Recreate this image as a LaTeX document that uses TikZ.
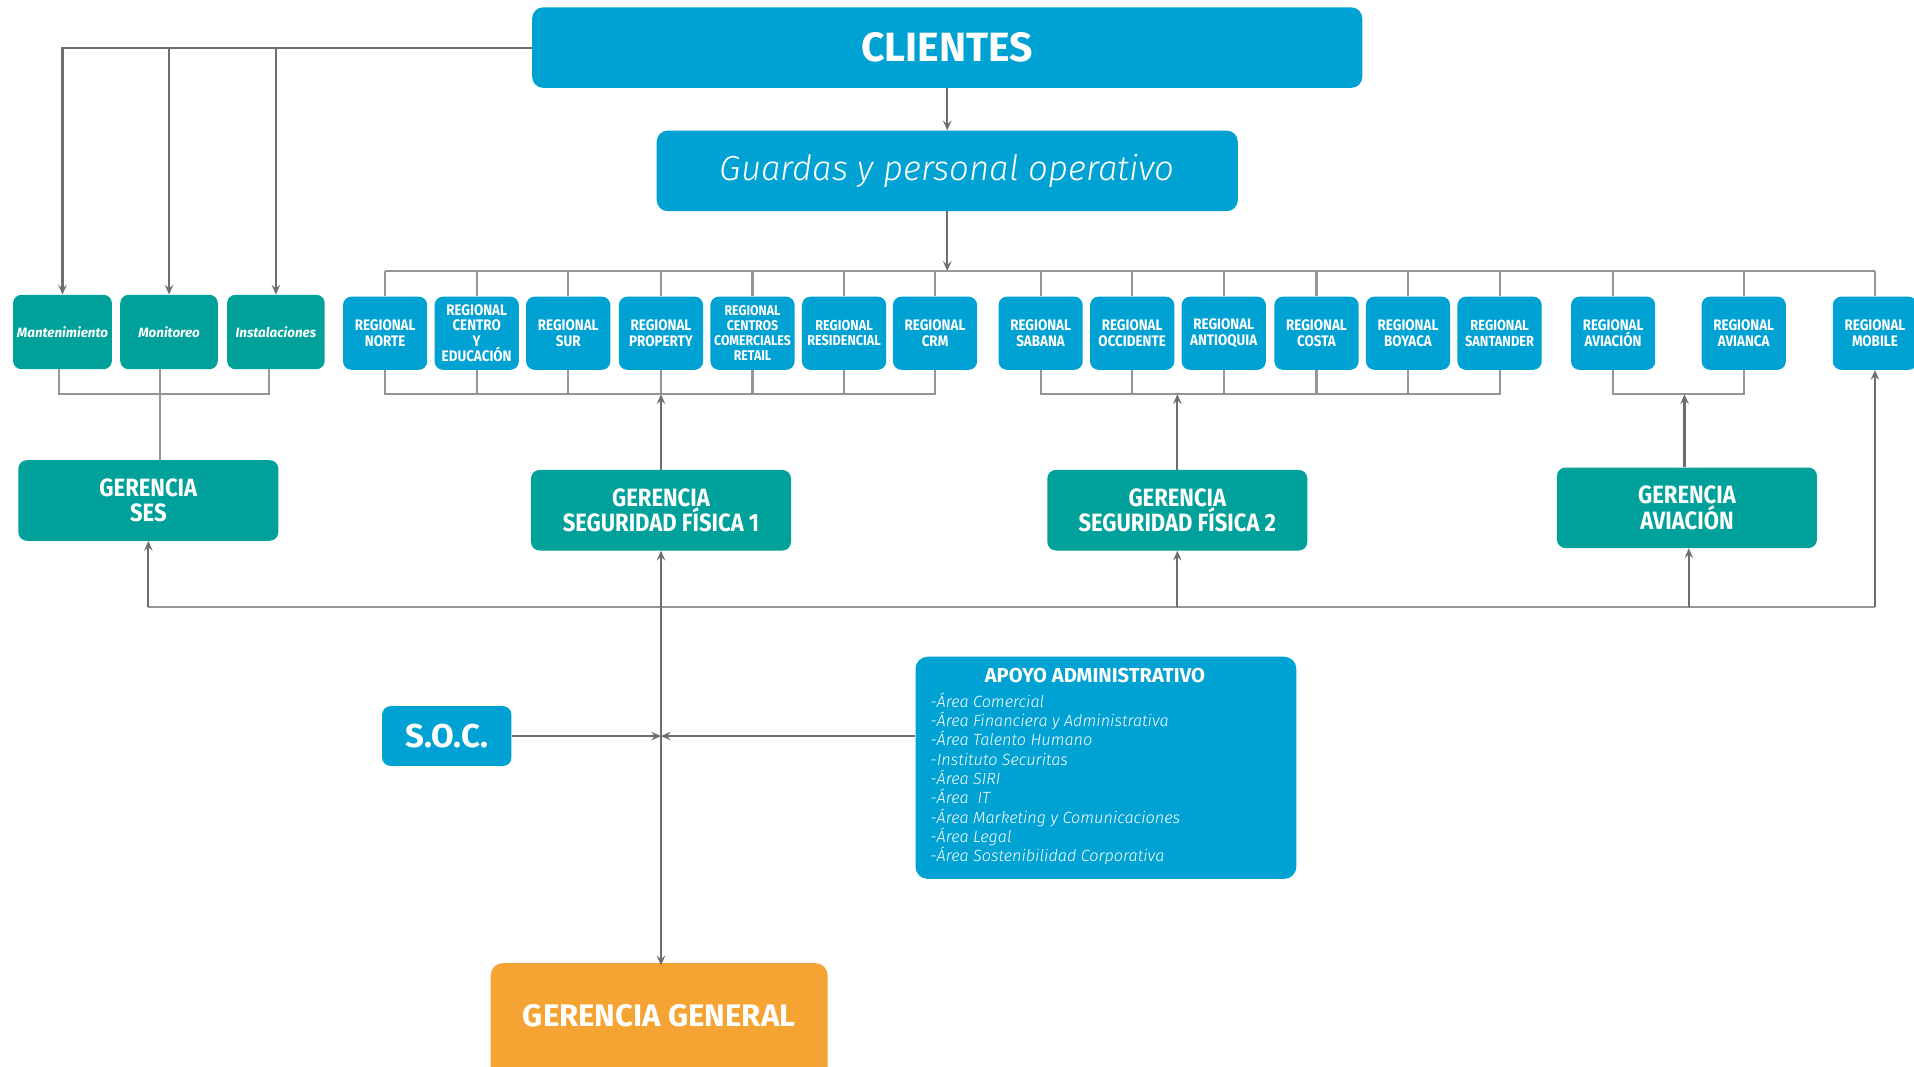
\documentclass[tikz,border=0pt]{standalone}
\usepackage{fontspec}
\setmainfont{Fira Sans}
\newfontfamily\cond[FakeStretch=0.88]{Fira Sans}
\newfontfamily\light{Fira Sans Light}[ItalicFont={Fira Sans Light Italic}]
\usetikzlibrary{arrows.meta}
\definecolor{cblue}{HTML}{00A1D3}
\definecolor{cteal}{HTML}{00A19A}
\definecolor{corange}{HTML}{F5A333}
\definecolor{cline}{HTML}{6D6E71}
\definecolor{cbus}{HTML}{939598}
\tikzset{
  boxbase/.style={rounded corners=7pt, text=white, inner sep=0pt, align=center},
  bluebox/.style={boxbase, fill=cblue},
  tealbox/.style={boxbase, fill=cteal},
  regbox/.style={bluebox, minimum width=69pt, minimum height=60pt,
     font=\cond\bfseries\fontsize{12.5}{12.6}\selectfont},
  smallbox/.style={tealbox, minimum height=61pt,
     font=\bfseries\itshape\fontsize{11}{12}\selectfont},
  gerbox/.style={tealbox, minimum width=213pt, minimum height=66pt,
     font=\cond\bfseries\fontsize{20.5}{21}\selectfont},
  arr/.style={draw=cline, line width=1.8pt, -{Stealth[length=8pt,width=7pt,inset=3pt]}},
  bus/.style={draw=cbus, line width=1.8pt},
}
\begin{document}
\begin{tikzpicture}[x=1pt,y=-1pt]
\useasboundingbox (0,0) rectangle (1568,874);
% top
\node[bluebox, rounded corners=9pt, minimum width=680pt, minimum height=66pt,
  font=\bfseries\fontsize{33.5}{36}\selectfont] (cli) at (776,39) {CLIENTES};
\node[bluebox, rounded corners=9pt, minimum width=476pt, minimum height=66pt,
  font=\light\itshape\fontsize{28.5}{32}\selectfont] (gua) at (776,140) {Guardas y personal operativo};
% left small boxes
\node[smallbox, minimum width=81pt] (mant) at (51.2,272) {Mantenimiento};
\node[smallbox, minimum width=80pt] (mon) at (138.5,272) {Monitoreo};
\node[smallbox, minimum width=80pt] (inst) at (226,272) {Instalaciones};
% regionals
\node[regbox] (r1) at (315.5,273) {REGIONAL\\NORTE};
\node[regbox] (r2) at (390.5,273) {REGIONAL\\CENTRO\\Y\\EDUCACIÓN};
\node[regbox] (r3) at (465.5,273) {REGIONAL\\SUR};
\node[regbox] (r4) at (541.5,273) {REGIONAL\\PROPERTY};
\node[regbox, font=\cond\bfseries\fontsize{11.5}{12.3}\selectfont] (r5) at (616.5,273) {REGIONAL\\CENTROS\\COMERCIALES\\RETAIL};
\node[regbox, font=\cond\bfseries\fontsize{11.8}{12.6}\selectfont] (r6) at (691.5,273) {REGIONAL\\RESIDENCIAL};
\node[regbox] (r7) at (766,273) {REGIONAL\\CRM};
\node[regbox] (r8) at (852.5,273) {REGIONAL\\SABANA};
\node[regbox] (r9) at (927.5,273) {REGIONAL\\OCCIDENTE};
\node[regbox] (r10) at (1002.5,273) {REGIONAL\\ANTIOQUIA};
\node[regbox] (r11) at (1078.5,273) {REGIONAL\\COSTA};
\node[regbox] (r12) at (1153.5,273) {REGIONAL\\BOYACA};
\node[regbox, font=\cond\bfseries\fontsize{12}{12.6}\selectfont] (r13) at (1228.5,273) {REGIONAL\\SANTANDER};
\node[regbox] (r14) at (1321.5,273) {REGIONAL\\AVIACIÓN};
\node[regbox] (r15) at (1428.5,273) {REGIONAL\\AVIANCA};
\node[regbox] (r16) at (1536,273) {REGIONAL\\MOBILE};
% gerencias
\node[gerbox] (ses) at (121.5,410) {GERENCIA\\SES};
\node[gerbox] (gsf1) at (541.5,418) {GERENCIA\\SEGURIDAD FÍSICA 1};
\node[gerbox] (gsf2) at (964.5,418) {GERENCIA\\SEGURIDAD FÍSICA 2};
\node[gerbox] (gav) at (1382,416) {GERENCIA\\AVIACIÓN};
% soc, apoyo, general
\node[bluebox, minimum width=106pt, minimum height=49pt,
  font=\bfseries\fontsize{27}{28}\selectfont] (soc) at (366,603) {S.O.C.};
\node[bluebox, rounded corners=10pt, minimum width=312pt, minimum height=182pt] (apoyo) at (906,629) {};
\node[text=white, font=\bfseries\fontsize{16.5}{18}\selectfont] (apt) at (897,553) {APOYO ADMINISTRATIVO};
\node[text=white, anchor=north west, align=left, inner sep=0pt,
  font=\light\itshape\fontsize{13.3}{15.8}\selectfont] (apl) at (762,567.5)
  {-Área Comercial\\-Área Financiera y Administrativa\\-Área Talento Humano\\-Instituto Securitas\\-Área SIRI\\-Área~ IT\\-Área Marketing y Comunicaciones\\-Área Legal\\-Área Sostenibilidad Corporativa};
\node[boxbase, fill=corange, rounded corners=10pt, minimum width=276pt, minimum height=96pt] (gg) at (540,837) {};
\node[text=white, font=\bfseries\fontsize{25.5}{28}\selectfont] (ggt) at (540,832) {GERENCIA GENERAL};
% coordinates
\coordinate (bustop) at (776,222);
\coordinate (bb) at (0,323);
\coordinate (bot) at (0,497);
% connectors top
\draw[arr] (cli.south) -- (gua.north);
\draw[arr] (gua.south) -- (bustop);
\draw[bus] (r1.north |- bustop) -- (r16.north |- bustop);
\foreach \i in {1,...,16} { \draw[bus] (r\i.north |- bustop) -- (r\i.north); }
% left group
\draw[arr] (cli.west) -| (inst.north);
\draw[arr] (cli.west) -| (mon.north);
\draw[arr] (cli.west) -| (mant.north);
\draw[bus] ([xshift=-3pt]mant.south) -- ([xshift=-3pt]mant.south |- bb) -- ([xshift=-5.6pt]inst.south |- bb) -- ([xshift=-5.6pt]inst.south);
\draw[bus] ([xshift=-7.5pt]mon.south) -- ([xshift=-7.5pt]mon.south |- ses.north);
% group buses
\draw[bus] (r1.south) -- (r1.south |- bb) -- (r7.south |- bb) -- (r7.south);
\foreach \i in {2,...,6} { \draw[bus] (r\i.south) -- (r\i.south |- bb); }
\draw[bus] (r8.south) -- (r8.south |- bb) -- (r13.south |- bb) -- (r13.south);
\foreach \i in {9,...,12} { \draw[bus] (r\i.south) -- (r\i.south |- bb); }
\draw[bus] (r14.south) -- (r14.south |- bb) -- (r15.south |- bb) -- (r15.south);
\draw[arr] (gsf1.north) -- (gsf1.north |- bb);
\draw[arr] (gsf2.north) -- (gsf2.north |- bb);
\draw[arr] ([xshift=-2pt]gav.north) -- ([xshift=-2pt]gav.north |- bb);
% bottom bus
\draw[bus] (ses.south |- bot) -- (r16.south |- bot);
\draw[arr] (ses.south |- bot) -- (ses.south);
\draw[arr] (gsf2.south |- bot) -- (gsf2.south);
\draw[arr] ([xshift=1.5pt]gav.south |- bot) -- ([xshift=1.5pt]gav.south);
\draw[arr] (r16.south |- bot) -- (r16.south);
% main vertical
\draw[arr, {Stealth[length=8pt,width=7pt,inset=3pt]}-{Stealth[length=8pt,width=7pt,inset=3pt]}] (gsf1.south) -- ([yshift=-2pt]gsf1.south |- gg.north);
\draw[arr] (soc.east) -- (soc.east -| gsf1.south);
\draw[arr] (apoyo.west |- soc.east) -- (soc.east -| gsf1.south);
\end{tikzpicture}
\end{document}
